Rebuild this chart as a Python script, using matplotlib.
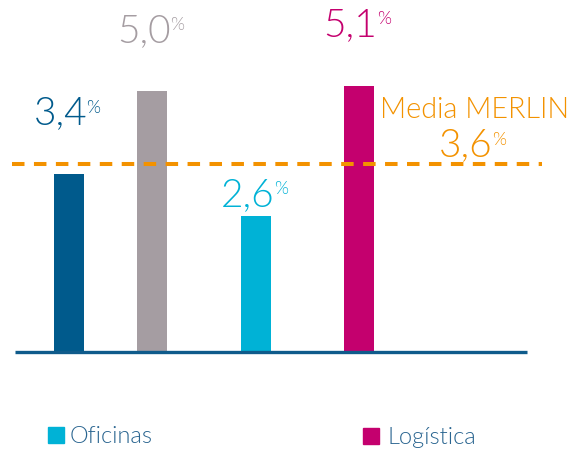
import matplotlib
matplotlib.use("Agg")
import matplotlib.pyplot as plt

# ---- data ----
categories = ["Cat A", "Cat B", "Oficinas", "Logística"]
values = [3.4, 5.0, 2.6, 5.1]
value_labels = ["3,4", "5,0", "2,6", "5,1"]
avg_value = 3.6
avg_label = "3,6"
avg_title = "Media MERLIN"
legend_labels = ["Oficinas", "Logística"]

# ---- styles / layout ----
bar_colors = ["#005a8c", "#a59da2", "#00b2d6", "#c4006e"]
legend_colors = ["#00b2d6", "#c4006e"]
orange = "#f39200"
axis_color = "#0f5b8b"
legend_text_color = "#2a6590"
bar_x = [68.5, 152, 255.5, 358.5]
bar_w = 30
label_offsets = [50, 49, 10, 50]  # px above bar top (baseline of text)
FW = 300

plt.rcParams['font.family'] = ['Lato', 'DejaVu Sans']
plt.rcParams['lines.scale_dashes'] = False

W, H = 574, 451
fig = plt.figure(figsize=(W / 100, H / 100), dpi=100)
ax = fig.add_axes([0, 0, 1, 1])
base_px = 351.5
scale = 52.1
ax.set_xlim(0, W)
ax.set_ylim(-(H - base_px) / scale, base_px / scale)
ax.axis('off')

ax.bar(bar_x, values, width=bar_w, color=bar_colors, zorder=2)
ax.plot([15, 527], [0, 0], color=axis_color, lw=2.4, zorder=3, solid_capstyle='butt')
ax.plot([12, 542], [avg_value, avg_value], color=orange, lw=2.9,
        dashes=(9, 6.8), zorder=4, dash_capstyle='butt')

PT = 72 / 100  # points per pixel

def pct_label(x, y, text, color, off_px, big=28, small=13):
    t = ax.annotate(text, xy=(x, y), xytext=(-8 * PT, off_px * PT),
                    textcoords='offset points', ha='center', va='baseline',
                    fontsize=big, color=color, fontweight=FW, zorder=5)
    ax.annotate('%', xy=(1, 1), xycoords=t, xytext=(-0.5, -3),
                textcoords='offset points', ha='left', va='top',
                fontsize=small, color=color, fontweight=FW, zorder=5)

for x, v, lab, c, off in zip(bar_x, values, value_labels, bar_colors, label_offsets):
    pct_label(x, v, lab, c, off)

# average annotation
fx = lambda p: p / W
fy = lambda p: 1 - p / H
fig.text(fx(380), fy(118), avg_title, fontsize=20.8, color=orange,
         fontweight=FW, ha='left', va='baseline')
t = fig.text(fx(466), fy(156.5), avg_label, fontsize=28, color=orange,
             fontweight=FW, ha='center', va='baseline')
ax.annotate('%', xy=(1, 1), xycoords=t, xytext=(-0.5, -3),
            textcoords='offset points', ha='left', va='top',
            fontsize=13, color=orange, fontweight=FW)

# legend
leg_pos = [(56, 435, 70, 443), (371, 436, 387, 444)]
for (sx, sy, tx, ty), lab, c in zip(leg_pos, legend_labels, legend_colors):
    fig.patches.append(plt.Rectangle((fx(sx - 8), fy(sy + 8)), 16 / W, 16 / H,
                                     transform=fig.transFigure, color=c, figure=fig))
    fig.text(fx(tx), fy(ty), lab, fontsize=17, color=legend_text_color,
             fontweight=FW, ha='left', va='baseline')

fig.savefig("out.png", dpi=100)
